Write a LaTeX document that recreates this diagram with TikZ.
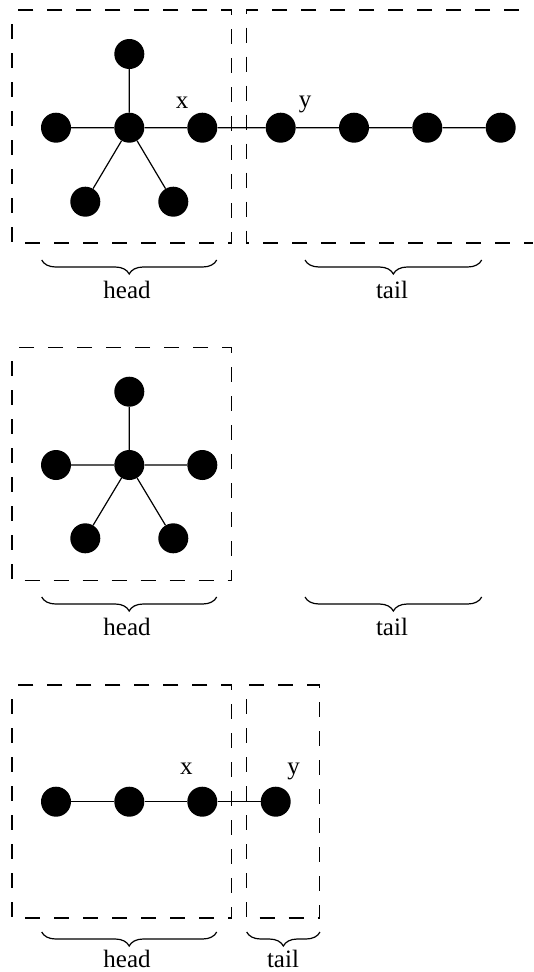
\documentclass[tikz,border=0pt]{standalone}
\usepackage{fontspec}
\setmainfont{Liberation Serif}
\usetikzlibrary{decorations.pathreplacing}
\begin{document}
\begin{tikzpicture}[x=1pt,y=-1pt,
  vtx/.style={circle,fill=black,inner sep=0pt,minimum size=30pt},
  edge/.style={line width=1.2pt},
  part/.style={line width=1.2pt,dash pattern=on 15pt off 14pt,dash phase=15pt},
  txt/.style={font=\fontsize{25}{30}\selectfont,inner sep=0pt},
  tag/.style={txt,anchor=base},
  grp/.style={line width=1.2pt,decorate,decoration={brace,mirror,amplitude=14pt}}]
\useasboundingbox (0,0) rectangle (533,972);

% ---------- first split: star head, path tail ----------
\draw[part] (12,10) rectangle (231.7,243);
% the tail part runs on past the right margin
\draw[part] (533,10) -- (246.7,10) -- (246.7,243) -- (533,243);

\node[vtx] (a0) at (129.3,127.7) {};
\node[vtx] (a1) at (129.3,54) {};
\node[vtx] (a2) at (56,127.7) {};
\node[vtx] (ax) at (202.3,127.7) {};
\node[vtx] (a4) at (85.3,201.7) {};
\node[vtx] (a5) at (173.3,201.7) {};
\node[vtx] (ay) at (280.7,127.7) {};
\node[vtx] (b1) at (354,127.7) {};
\node[vtx] (b2) at (427.3,127.7) {};
\node[vtx] (b3) at (500.7,127.7) {};
\draw[edge] (a0) -- (a1) (a0) -- (a2) (a0) -- (ax) (a0) -- (a4) (a0) -- (a5)
  (ax) -- (ay) -- (b1) -- (b2) -- (b3);
\node[tag] (ax-l) at (182,108) {x};
\node[tag] (ay-l) at (305,107) {y};

\coordinate (h1a) at (41.7,260);  \coordinate (h1b) at (216.7,260);
\coordinate (t1a) at (305,260);   \coordinate (t1b) at (481.7,260);
\draw[grp] (h1a) -- (h1b);
\draw[grp] (t1a) -- (t1b);
\node[txt] (h1) at (127,290) {head};
\node[txt] (t1) at (392,290) {tail};

% ---------- second split: star head, empty tail ----------
\draw[part] (12,347.3) rectangle (231.7,580.7);

\node[vtx] (c0) at (129.3,465) {};
\node[vtx] (c1) at (129.3,391.7) {};
\node[vtx] (c2) at (56,465) {};
\node[vtx] (c3) at (202.3,465) {};
\node[vtx] (c4) at (85.3,538.3) {};
\node[vtx] (c5) at (173.3,538.3) {};
\draw[edge] (c0) -- (c1) (c0) -- (c2) (c0) -- (c3) (c0) -- (c4) (c0) -- (c5);

\coordinate (h2a) at (41.7,597);  \coordinate (h2b) at (216.7,597);
\coordinate (t2a) at (305,597);   \coordinate (t2b) at (481.7,597);
\draw[grp] (h2a) -- (h2b);
\draw[grp] (t2a) -- (t2b);
\node[txt] (h2) at (127,627) {head};
\node[txt] (t2) at (392,627) {tail};

% ---------- third split: path head, single-vertex tail ----------
\draw[part] (12,685) rectangle (231.7,918);
\draw[part] (246.7,685) rectangle (319.3,918);

\node[vtx] (d1) at (56,801.7) {};
\node[vtx] (d2) at (129.3,801.7) {};
\node[vtx] (dx) at (202.3,801.7) {};
\node[vtx] (dy) at (275.7,801.7) {};
\draw[edge] (d1) -- (d2) -- (dx) -- (dy);
\node[tag] (dx-l) at (186.3,774) {x};
\node[tag] (dy-l) at (293.7,774) {y};

\coordinate (h3a) at (41.7,932);  \coordinate (h3b) at (216.7,932);
\coordinate (t3a) at (246.7,932); \coordinate (t3b) at (320,932);
\draw[grp] (h3a) -- (h3b);
\draw[grp] (t3a) -- (t3b);
\node[txt] (h3) at (127,958.5) {head};
\node[txt] (t3) at (283,958.5) {tail};
\end{tikzpicture}
\end{document}
